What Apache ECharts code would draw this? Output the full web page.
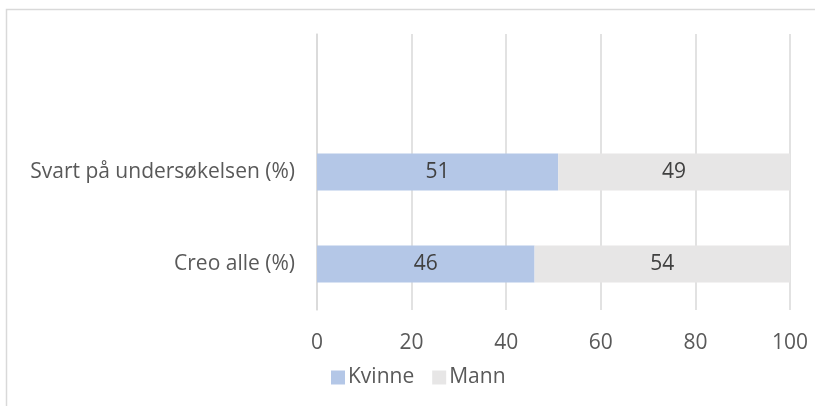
<!DOCTYPE html>
<html>
<head>
<meta charset="utf-8">
<script src="https://cdn.jsdelivr.net/npm/echarts@6/dist/echarts.min.js"></script>
<style>
  html, body { margin: 0; padding: 0; background: #fff; }
  #chart { width: 815px; height: 406px; }
</style>
</head>
<body>
<div id="chart"></div>
<script>
// kategorier (nederst først), siste er tom rad øverst i plottet
const categories = ['Creo alle (%)', 'Svart på undersøkelsen (%)', '']
const kvinne = [46, 51, null]
const mann = [54, 49, null]
const xTicks = [0, 20, 40, 60, 80, 100]

const fontFamily = '"Open Sans", "Noto Sans", sans-serif'
const textColor = '#595959'
const fontSize = 21

const chart = echarts.init(document.getElementById('chart'))

chart.setOption({
  animation: false,
  textStyle: { fontFamily: fontFamily },
  // ramme rundt diagrammet
  graphic: [{
    type: 'rect',
    shape: { x: 6.5, y: 9.5, width: 900, height: 500 },
    style: { fill: 'none', stroke: '#D9D9D9', lineWidth: 1.5 },
    silent: true
  }],
  grid: { left: 317, right: 25, top: 34, bottom: 96 },
  legend: {
    data: ['Kvinne', 'Mann'],
    left: 326,
    top: 362,
    itemWidth: 14,
    itemHeight: 14,
    itemGap: 18,
    icon: 'rect',
    textStyle: { color: textColor, fontSize: fontSize, fontFamily: fontFamily, padding: [0, 0, 0, -2] }
  },
  xAxis: {
    type: 'value',
    min: xTicks[0],
    max: xTicks[xTicks.length - 1],
    interval: 20,
    axisLine: { show: false },
    axisTick: { show: false },
    axisLabel: { color: textColor, fontSize: fontSize, margin: 23, fontFamily: fontFamily },
    splitLine: { lineStyle: { color: '#D9D9D9', width: 1.5 } }
  },
  yAxis: {
    type: 'category',
    data: categories,
    axisLine: { lineStyle: { color: '#D9D9D9', width: 1.5 } },
    axisTick: { show: false },
    axisLabel: { color: textColor, fontSize: fontSize, margin: 22, fontFamily: fontFamily }
  },
  series: [
    {
      name: 'Kvinne',
      type: 'bar',
      stack: 'total',
      barWidth: 37,
      data: kvinne,
      itemStyle: { color: '#B4C7E7' },
      label: { show: true, position: 'inside', color: '#404040', fontSize: fontSize, fontFamily: fontFamily }
    },
    {
      name: 'Mann',
      type: 'bar',
      stack: 'total',
      barWidth: 37,
      data: mann,
      itemStyle: { color: '#E7E6E6' },
      label: { show: true, position: 'inside', color: '#404040', fontSize: fontSize, fontFamily: fontFamily }
    }
  ]
})
</script>
</body>
</html>
